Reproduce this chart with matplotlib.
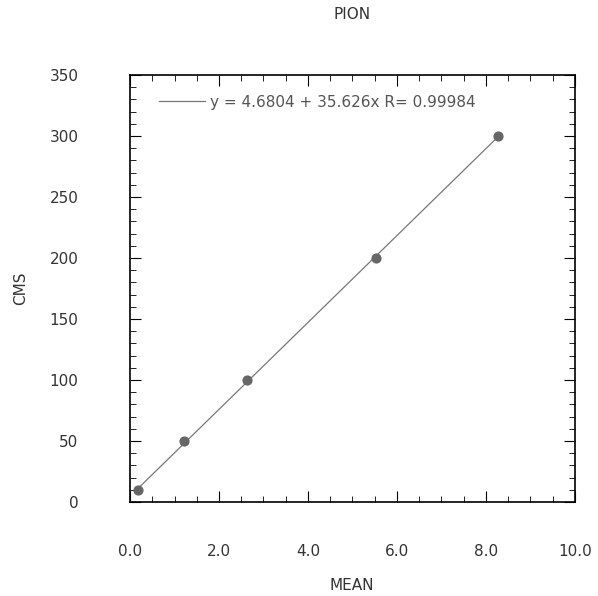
import numpy as np
import matplotlib.pyplot as plt
from matplotlib.ticker import MultipleLocator

mean = [0.18, 1.22, 2.63, 5.53, 8.28]
cms = [10, 50, 100, 200, 300]
intercept = 4.6804
slope = 35.626
r_value = 0.99984

fig = plt.figure(figsize=(5.98, 5.96), dpi=100)
ax = fig.add_axes([0.2174, 0.1577, 0.7441, 0.7165])

x_fit = np.array([min(mean), max(mean)])
ax.plot(x_fit, intercept + slope * x_fit, color="#777777", lw=0.9,
        label=f"y = {intercept} + {slope}x R= {r_value}")
ax.scatter(mean, cms, color="#666666", s=40, zorder=3)

ax.set_xlim(0, 10)
ax.set_ylim(0, 350)
ax.xaxis.set_major_locator(MultipleLocator(2))
ax.xaxis.set_minor_locator(MultipleLocator(0.5))
ax.yaxis.set_major_locator(MultipleLocator(50))
ax.yaxis.set_minor_locator(MultipleLocator(10))
ax.xaxis.set_major_formatter(plt.FormatStrFormatter("%.1f"))

ax.tick_params(which="both", direction="in", top=True, right=True,
               color="black", labelcolor="#333333", labelsize=11)
ax.tick_params(axis="x", which="major", length=8, pad=30)
ax.tick_params(axis="y", which="major", length=8, pad=37)
ax.tick_params(which="minor", length=4)
for s in ax.spines.values():
    s.set_linewidth(1.2)

fig.text(0.589, 0.018, "MEAN", ha="center", va="center", fontsize=11, color="#333333")
fig.text(0.034, 0.517, "CMS", ha="center", va="center", rotation=90,
         fontsize=11, color="#333333")
fig.text(0.589, 0.975, "PION", ha="center", va="center", fontsize=11, color="#333333")

ax.legend(loc="upper left", frameon=False, fontsize=11, handlelength=3.0,
          handletextpad=0.35, borderaxespad=0.9, labelcolor="#555555",
          bbox_to_anchor=(0.02, 1.0))

plt.savefig("out.png", dpi=100)
